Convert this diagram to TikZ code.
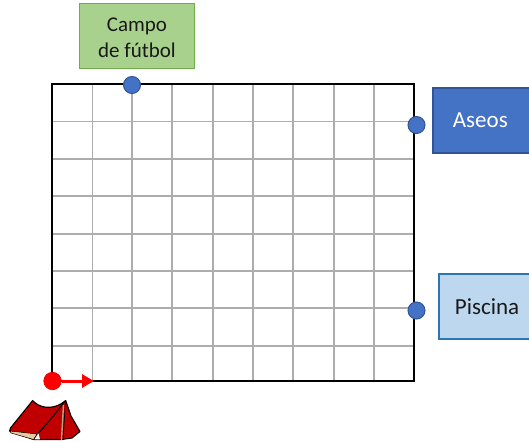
\documentclass[tikz,border=0pt]{standalone}
\usepackage{fontspec}
\setmainfont{Carlito}
\usetikzlibrary{arrows.meta}
\definecolor{bluedot}{HTML}{4472C4}
\definecolor{bluedark}{HTML}{2F5597}
\definecolor{greenfill}{HTML}{A9D18E}
\definecolor{greenline}{HTML}{70AD47}
\definecolor{paleblue}{HTML}{BDD7EE}
\definecolor{midblue}{HTML}{2E75B6}
\definecolor{tentred}{HTML}{C00000}
\definecolor{tentbeige}{HTML}{E8C9A0}
\tikzset{
 gridline/.style={draw=black!32,line width=1.2pt},
 dot/.style={circle,fill=bluedot,draw=bluedark,line width=1pt,minimum size=17pt,inner sep=0pt},
 labelbox/.style={rectangle,line width=1.8pt,inner sep=0pt,align=center,font=\fontsize{23}{26}\selectfont},
}
\begin{document}
\begin{tikzpicture}[x=1pt,y=-1pt]
\useasboundingbox (0,0) rectangle (529,443);
\foreach \x in {92.5,132,172,213,253,293,334,374} \draw[gridline] (\x,84) -- (\x,381);
\foreach \y in {121.5,159,196,234,271,308,346} \draw[gridline] (52,\y) -- (414,\y);
\draw[black,line width=2.4pt] (52,84) rectangle (414,381);
\node[labelbox,draw=greenline,fill=greenfill,text=black!90,minimum width=115pt,minimum height=65pt,font=\fontsize{21}{26}\selectfont] (campo) at (137,36) {\rule{0pt}{17pt}Campo\\de fútbol};
\node[labelbox,draw=bluedark,fill=bluedot,text=white,minimum width=100pt,minimum height=65pt,anchor=west,text width=100pt,align=left] (aseos) at (432,120.5) {\hspace{20pt}\raisebox{-4pt}{Aseos}};
\node[labelbox,draw=midblue,fill=paleblue,text=black!90,minimum width=95pt,minimum height=65pt,anchor=west,text width=95pt,align=left] (piscina) at (438,306.5) {\hspace{16pt}Piscina};
\node[dot] (d1) at (132,85) {};
\node[dot] (d2) at (416.5,125) {};
\node[dot] (d3) at (416.5,310.5) {};
\node[circle,fill=red,draw=red!85!black,line width=0.6pt,minimum size=17.5pt,inner sep=0pt] (start) at (52.5,381) {};
\coordinate (arrowend) at (94,381);
\draw[red,line width=3pt,-{Triangle[length=12pt,width=13pt]}] (start) -- (arrowend);
% tent
\draw[black,line width=1.1pt,fill=tentred,line join=round] (32.7,400.5) .. controls (38,407) and (52,412) .. (65.7,400.5)
  -- (71,416) -- (80,431.5) -- (72,438) -- (61.5,439.5) -- (40,439.5) -- (33.5,439.5) -- (9.5,431) -- (10.5,428) -- cycle;
\fill[tentbeige,draw=black,line width=0.5pt] (10,431) -- (11,433) -- (33.5,439.5) -- (37,434) -- cycle;
\fill[white] (34.5,439.3) -- (38.5,433.5) -- (40,439.3) -- cycle;
\draw[black,line width=1pt] (65,401) .. controls (56,413) and (48,423) .. (38.5,433);
\draw[tentbeige!80!black,line width=1.4pt] (63.5,405) -- (61.5,440);
\draw[black,line width=0.6pt] (65.5,401) -- (63,440);
\end{tikzpicture}
\end{document}
